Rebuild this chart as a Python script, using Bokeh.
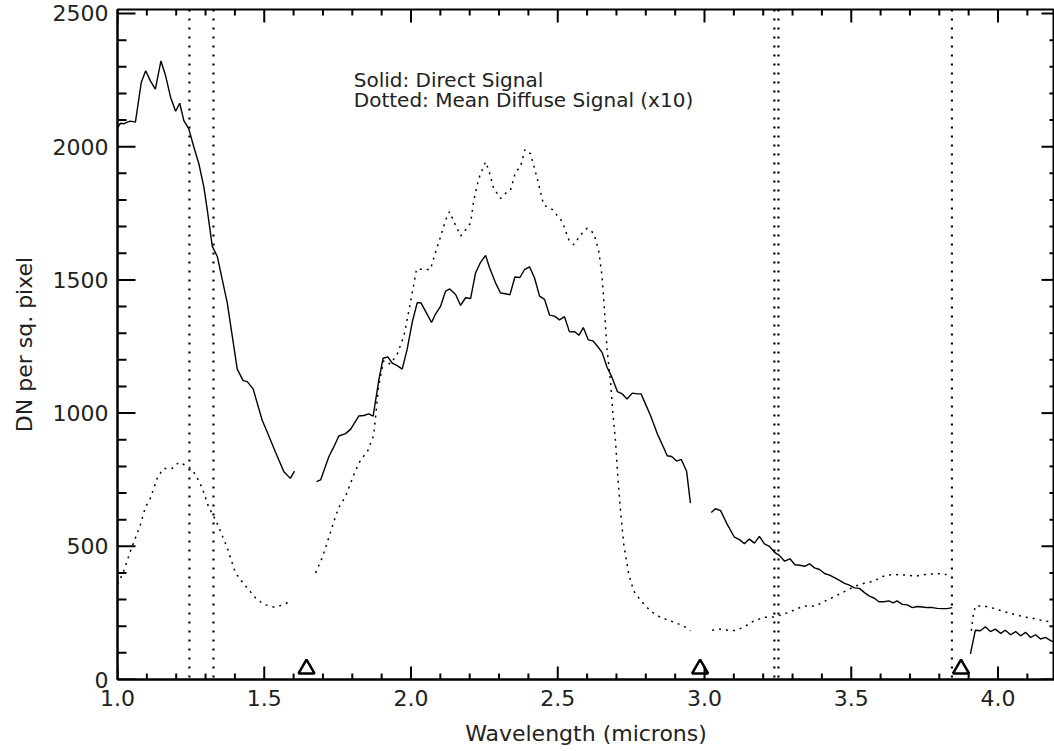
import numpy as np
from bokeh.plotting import figure
from bokeh.models import (LinearAxis, SingleIntervalTicker, NumeralTickFormatter,
                          Span, Label, Range1d)
from bokeh.embed import file_html
from bokeh.resources import INLINE

# ---------------- data ----------------
# Direct signal (solid), four segments
direct_x1 = [1.001, 1.010, 1.021, 1.033, 1.044, 1.061, 1.081, 1.096, 1.112, 1.129, 1.148, 1.164,
             1.181, 1.198, 1.212, 1.226, 1.243, 1.260, 1.277, 1.294, 1.306, 1.323, 1.340, 1.374,
             1.408, 1.428, 1.442, 1.462, 1.493, 1.510, 1.538, 1.567, 1.589, 1.603]
direct_y1 = [2073, 2088, 2086, 2092, 2096, 2092, 2241, 2285, 2247, 2216, 2322, 2266,
             2185, 2133, 2163, 2098, 2067, 1999, 1937, 1850, 1762, 1626, 1588, 1414,
             1165, 1122, 1118, 1091, 973, 929, 854, 780, 755, 782]
direct_x2 = [1.678, 1.692, 1.720, 1.737, 1.754, 1.777, 1.794, 1.822, 1.839, 1.856, 1.871, 1.890,
             1.905, 1.921, 1.936, 1.953, 1.970, 1.987, 2.004, 2.021, 2.034, 2.052, 2.070, 2.083,
             2.101, 2.118, 2.132, 2.152, 2.169, 2.186, 2.203, 2.220, 2.237, 2.254, 2.268, 2.288,
             2.305, 2.322, 2.337, 2.354, 2.371, 2.387, 2.404, 2.421, 2.438, 2.455, 2.472, 2.489,
             2.506, 2.523, 2.540, 2.557, 2.572, 2.587, 2.604, 2.620, 2.636, 2.651, 2.668, 2.685,
             2.703, 2.720, 2.736, 2.754, 2.771, 2.784, 2.801, 2.816, 2.839, 2.856, 2.873, 2.888,
             2.905, 2.921, 2.939, 2.952]
direct_y2 = [743, 749, 836, 873, 914, 923, 939, 989, 991, 997, 989, 1122,
             1206, 1211, 1188, 1178, 1165, 1240, 1340, 1414, 1414, 1377, 1340, 1371,
             1402, 1458, 1466, 1445, 1404, 1433, 1430, 1526, 1566, 1592, 1545, 1489,
             1451, 1448, 1444, 1511, 1509, 1539, 1549, 1507, 1439, 1427, 1368, 1364,
             1350, 1362, 1305, 1306, 1292, 1321, 1275, 1271, 1250, 1228, 1172, 1134,
             1081, 1072, 1053, 1075, 1072, 1072, 1029, 991, 923, 882, 840, 837,
             820, 826, 782, 662]
direct_x3 = [3.023, 3.037, 3.055, 3.077, 3.102, 3.119, 3.136, 3.153, 3.170, 3.187, 3.204, 3.221,
             3.241, 3.255, 3.273, 3.291, 3.308, 3.325, 3.341, 3.358, 3.375, 3.392, 3.409, 3.426,
             3.443, 3.460, 3.477, 3.494, 3.511, 3.528, 3.545, 3.562, 3.579, 3.594, 3.611, 3.628,
             3.643, 3.656, 3.674, 3.691, 3.708, 3.725, 3.742, 3.759, 3.776, 3.793, 3.810, 3.827,
             3.844]
direct_y3 = [627, 641, 634, 583, 534, 525, 510, 527, 512, 537, 509, 500,
             475, 466, 444, 453, 431, 429, 425, 434, 419, 413, 398, 392,
             382, 372, 361, 354, 344, 342, 326, 313, 305, 292, 292, 295,
             288, 295, 282, 280, 270, 274, 272, 270, 270, 267, 266, 266,
             270]
direct_x4 = [3.906, 3.923, 3.940, 3.957, 3.974, 3.991, 4.009, 4.025, 4.043, 4.060, 4.077, 4.094,
             4.111, 4.128, 4.145, 4.162, 4.179, 4.196]
direct_y4 = [96, 185, 183, 198, 180, 189, 173, 185, 168, 180, 164, 177,
             158, 168, 152, 158, 146, 140]

# Mean diffuse signal x10 (dotted), four segments
diffuse_x1 = [1.001, 1.021, 1.044, 1.061, 1.078, 1.095, 1.112, 1.135, 1.156, 1.186, 1.209, 1.243,
              1.266, 1.289, 1.311, 1.334, 1.351, 1.374, 1.402, 1.436, 1.470, 1.498, 1.533, 1.565,
              1.589]
diffuse_y1 = [357, 407, 481, 531, 581, 646, 680, 755, 792, 792, 815, 799,
              770, 718, 646, 600, 556, 494, 400, 351, 307, 282, 272, 280,
              295]
diffuse_x2 = [1.675, 1.697, 1.714, 1.737, 1.754, 1.777, 1.805, 1.828, 1.851, 1.873, 1.890, 1.907,
              1.930, 1.953, 1.976, 1.998, 2.019, 2.044, 2.066, 2.083, 2.101, 2.118, 2.131, 2.146,
              2.169, 2.186, 2.203, 2.214, 2.231, 2.254, 2.265, 2.282, 2.305, 2.328, 2.339, 2.356,
              2.373, 2.388, 2.407, 2.430, 2.452, 2.481, 2.515, 2.538, 2.555, 2.578, 2.600, 2.623,
              2.640, 2.651, 2.659, 2.668, 2.680, 2.688, 2.697, 2.705, 2.714, 2.725, 2.742, 2.759,
              2.782, 2.816, 2.850, 2.884, 2.929, 2.952]
diffuse_y2 = [400, 456, 512, 593, 646, 687, 768, 824, 854, 917, 1103, 1197,
              1184, 1221, 1290, 1414, 1541, 1539, 1539, 1601, 1663, 1725, 1756, 1719,
              1665, 1688, 1713, 1800, 1881, 1943, 1912, 1843, 1806, 1831, 1837, 1905,
              1924, 1989, 1974, 1881, 1781, 1765, 1719, 1650, 1632, 1669, 1694, 1675,
              1607, 1513, 1389, 1240, 1116, 1000, 892, 755, 631, 506, 394, 332,
              297, 257, 233, 220, 201, 183]
diffuse_x3 = [3.026, 3.055, 3.089, 3.111, 3.140, 3.168, 3.202, 3.236, 3.270, 3.304, 3.338, 3.378,
              3.412, 3.446, 3.480, 3.514, 3.549, 3.577, 3.600, 3.622, 3.651, 3.685, 3.719, 3.753,
              3.787, 3.815, 3.836]
diffuse_y3 = [185, 189, 183, 185, 201, 220, 233, 235, 245, 260, 276, 276,
              295, 313, 332, 351, 363, 369, 384, 392, 394, 392, 388, 394,
              397, 397, 388]
diffuse_x4 = [3.909, 3.916, 3.923, 3.952, 3.986, 4.020, 4.054, 4.088, 4.122, 4.156, 4.190]
diffuse_y4 = [183, 245, 276, 276, 267, 255, 245, 235, 229, 220, 214]

# Vertical dotted marker wavelengths
vline_x = [1.245, 1.327, 3.238, 3.252, 3.843]
# Triangle markers
tri_x = [1.644, 2.985, 3.874]
tri_y = [40, 40, 40]

legend_lines = ["Solid: Direct Signal", "Dotted: Mean Diffuse Signal (x10)"]
x_label = "Wavelength (microns)"
y_label = "DN per sq. pixel"

# axis ranges / tick values
X_START, X_END = 1.0, 4.1925
Y_START, Y_END = 0, 2515
x_major = [1.0, 1.5, 2.0, 2.5, 3.0, 3.5, 4.0]
x_minor = [float(v) for v in np.round(np.arange(1.1, 4.2, 0.1), 2) if round(v * 2, 6) % 1 != 0]
y_major = [0, 500, 1000, 1500, 2000, 2500]
y_minor = [v for v in range(100, 2500, 100) if v % 500 != 0]

# ---------------- figure ----------------
FONT = "DejaVu Sans"
TXT = "#222222"
FRAME_W, FRAME_H = 937, 670
p = figure(width=1054, height=751, output_backend="svg", toolbar_location=None,
           x_range=Range1d(X_START, X_END), y_range=Range1d(Y_START, Y_END),
           min_border_left=117, min_border_right=0, min_border_top=9, min_border_bottom=72,
           x_axis_location=None, y_axis_location=None)
p.outline_line_color = "black"
p.outline_line_width = 2
p.grid.visible = False
p.background_fill_color = "white"
p.border_fill_color = "white"

def style(ax):
    ax.axis_line_width = 2
    ax.axis_line_color = "black"
    ax.major_tick_in = 0
    ax.major_tick_out = 0
    ax.minor_tick_in = 0
    ax.minor_tick_out = 0
    ax.major_label_text_font = FONT
    ax.major_label_text_font_size = "22px"
    ax.major_label_text_color = TXT
    ax.axis_label_text_font = FONT
    ax.axis_label_text_font_size = "22px"
    ax.axis_label_text_font_style = "normal"
    ax.axis_label_text_color = TXT

bottom = LinearAxis(ticker=SingleIntervalTicker(interval=0.5, num_minor_ticks=5),
                    formatter=NumeralTickFormatter(format="0.0"), axis_label=x_label)
style(bottom)
bottom.major_label_standoff = 10
bottom.axis_label_standoff = 12
p.add_layout(bottom, "below")

left = LinearAxis(ticker=SingleIntervalTicker(interval=500, num_minor_ticks=5),
                  formatter=NumeralTickFormatter(format="0"), axis_label=y_label)
style(left)
left.major_label_standoff = 9
left.axis_label_standoff = 13
p.add_layout(left, "left")

# inward ticks drawn as short segments inside the frame
xpp = (X_END - X_START) / FRAME_W   # data units per pixel
ypp = (Y_END - Y_START) / FRAME_H
tk = dict(line_color="black", line_width=2)
n, m = len(y_major), len(y_minor)
p.segment([X_START] * n, y_major, [X_START + 18 * xpp] * n, y_major, **tk)
p.segment([X_START] * m, y_minor, [X_START + 9 * xpp] * m, y_minor, **tk)
p.segment([X_END] * n, y_major, [X_END - 13 * xpp] * n, y_major, **tk)
p.segment([X_END] * m, y_minor, [X_END - 5 * xpp] * m, y_minor, **tk)
n, m = len(x_major), len(x_minor)
p.segment(x_major, [Y_START] * n, x_major, [Y_START + 13 * ypp] * n, **tk)
p.segment(x_minor, [Y_START] * m, x_minor, [Y_START + 6 * ypp] * m, **tk)
p.segment(x_major, [Y_END] * n, x_major, [Y_END - 13 * ypp] * n, **tk)
p.segment(x_minor, [Y_END] * m, x_minor, [Y_END - 6 * ypp] * m, **tk)

# curves
for xs, ys in [(direct_x1, direct_y1), (direct_x2, direct_y2),
               (direct_x3, direct_y3), (direct_x4, direct_y4)]:
    p.line(xs, ys, line_color="black", line_width=1.4)

for xs, ys in [(diffuse_x1, diffuse_y1), (diffuse_x2, diffuse_y2),
               (diffuse_x3, diffuse_y3), (diffuse_x4, diffuse_y4)]:
    p.line(xs, ys, line_color="black", line_width=1.5, line_dash="2 5")

for vx in vline_x:
    p.add_layout(Span(location=vx, dimension="height", line_color="black",
                      line_width=2.2, line_dash="2 7"))

p.scatter(tri_x, tri_y, marker="triangle", size=16, fill_color=None,
          line_color="black", line_width=2.5)

# legend text
for i, t in enumerate(legend_lines):
    p.add_layout(Label(x=1.805, y=2252 - i * 75, text=t, text_font=FONT,
                       text_font_size="20px", text_color=TXT,
                       text_baseline="alphabetic"))

open("out.html", "w").write(file_html(p, INLINE))
